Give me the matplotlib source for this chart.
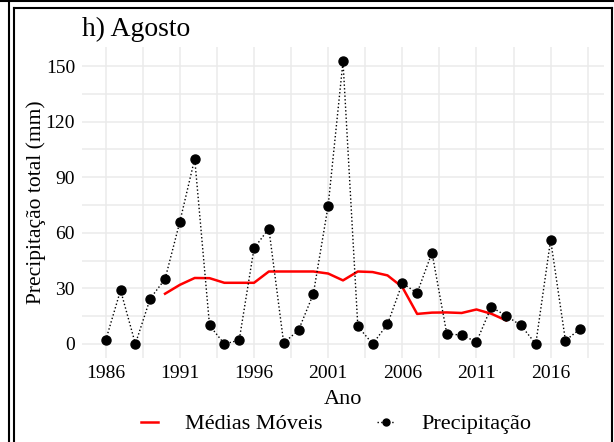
import matplotlib
matplotlib.use("Agg")
import matplotlib.pyplot as plt
from matplotlib.lines import Line2D

plt.rcParams['font.family'] = ['Liberation Serif', 'DejaVu Serif']

# Precipitação total de agosto (mm)
anos = list(range(1986, 2019))
precip = [2, 29, 0, 24.5, 35, 66, 100, 10, 0, 2,
          51.6, 62.3, 0.5, 7.4, 27, 74.7, 152.5, 9.5, 0, 10.6,
          32.8, 27.5, 49.3, 5.4, 4.8, 1.1, 19.9, 15.2, 10, 0,
          56.2, 1.8, 8.2]

# Médias móveis
anos_mm = list(range(1990, 2014))
medias = [27.1, 31.9, 35.6, 35.5, 33.0, 33.0, 33.0, 39.1, 39.1, 39.1,
          39.1, 38.0, 34.3, 39.1, 38.8, 37.0, 30.7, 16.2, 16.9, 17.0,
          16.7, 18.6, 16.3, 12.7]

x_ticks = [1986, 1991, 1996, 2001, 2006, 2011, 2016]
y_ticks = [0, 30, 60, 90, 120, 150]

W, H = 614, 442
fig = plt.figure(figsize=(W / 100, H / 100), dpi=100)
ax = fig.add_axes([82 / W, 1 - 358 / H, 522 / W, 311 / H])

# grade estilo ggplot (theme_minimal)
grid_c = '#EBEBEB'
for x in x_ticks + [t + 2.5 for t in x_ticks]:
    ax.axvline(x, color=grid_c, lw=1.1, zorder=0)
for y in y_ticks + [t + 15 for t in y_ticks]:
    ax.axhline(y, color=grid_c, lw=1.1, zorder=0)

ax.plot(anos_mm, medias, color='#FF0000', lw=1.8, zorder=2)
ax.plot(anos, precip, color='black', lw=1.0, ls=':', zorder=3)
ax.plot(anos, precip, 'o', color='black', ms=6.5, zorder=4)

ax.set_xlim(1984.4, 2019.6)
ax.set_ylim(-7.6, 160.3)
ax.set_xticks(x_ticks)
ax.set_yticks(y_ticks)
ax.tick_params(length=0, labelsize=14, pad=5, colors='black')
for s in ax.spines.values():
    s.set_visible(False)

ax.set_xlabel('Ano', fontsize=16, labelpad=6)
ax.set_ylabel('Precipitação total (mm)', fontsize=15.5, labelpad=0)

fig.text(82 / W, 1 - 36 / H, 'h) Agosto', fontsize=20, va='baseline', ha='left')

handles = [Line2D([], [], color='#FF0000', lw=1.8),
           Line2D([], [], color='black', lw=1.0, ls=':', marker='o', ms=5)]
fig.legend(handles, ['Médias Móveis', 'Precipitação'], loc='center',
           bbox_to_anchor=(336 / W, 1 - 424 / H), ncol=2, frameon=False,
           fontsize=16, handlelength=0.8, handletextpad=1.2, columnspacing=2.45)


# moldura do painel (recorte da figura original)
def px_line(x0, y0, x1, y1):
    fig.add_artist(Line2D([x0 / W, x1 / W], [1 - y0 / H, 1 - y1 / H],
                          transform=fig.transFigure, color='black', lw=1.5))


px_line(0, 0.8, W, 0.8)
px_line(8.8, 0, 8.8, H)
px_line(14, 8, 14, H)
px_line(14, 8.2, 612, 8.2)
px_line(612, 8, 612, H)

fig.savefig('out.png', dpi=100)
